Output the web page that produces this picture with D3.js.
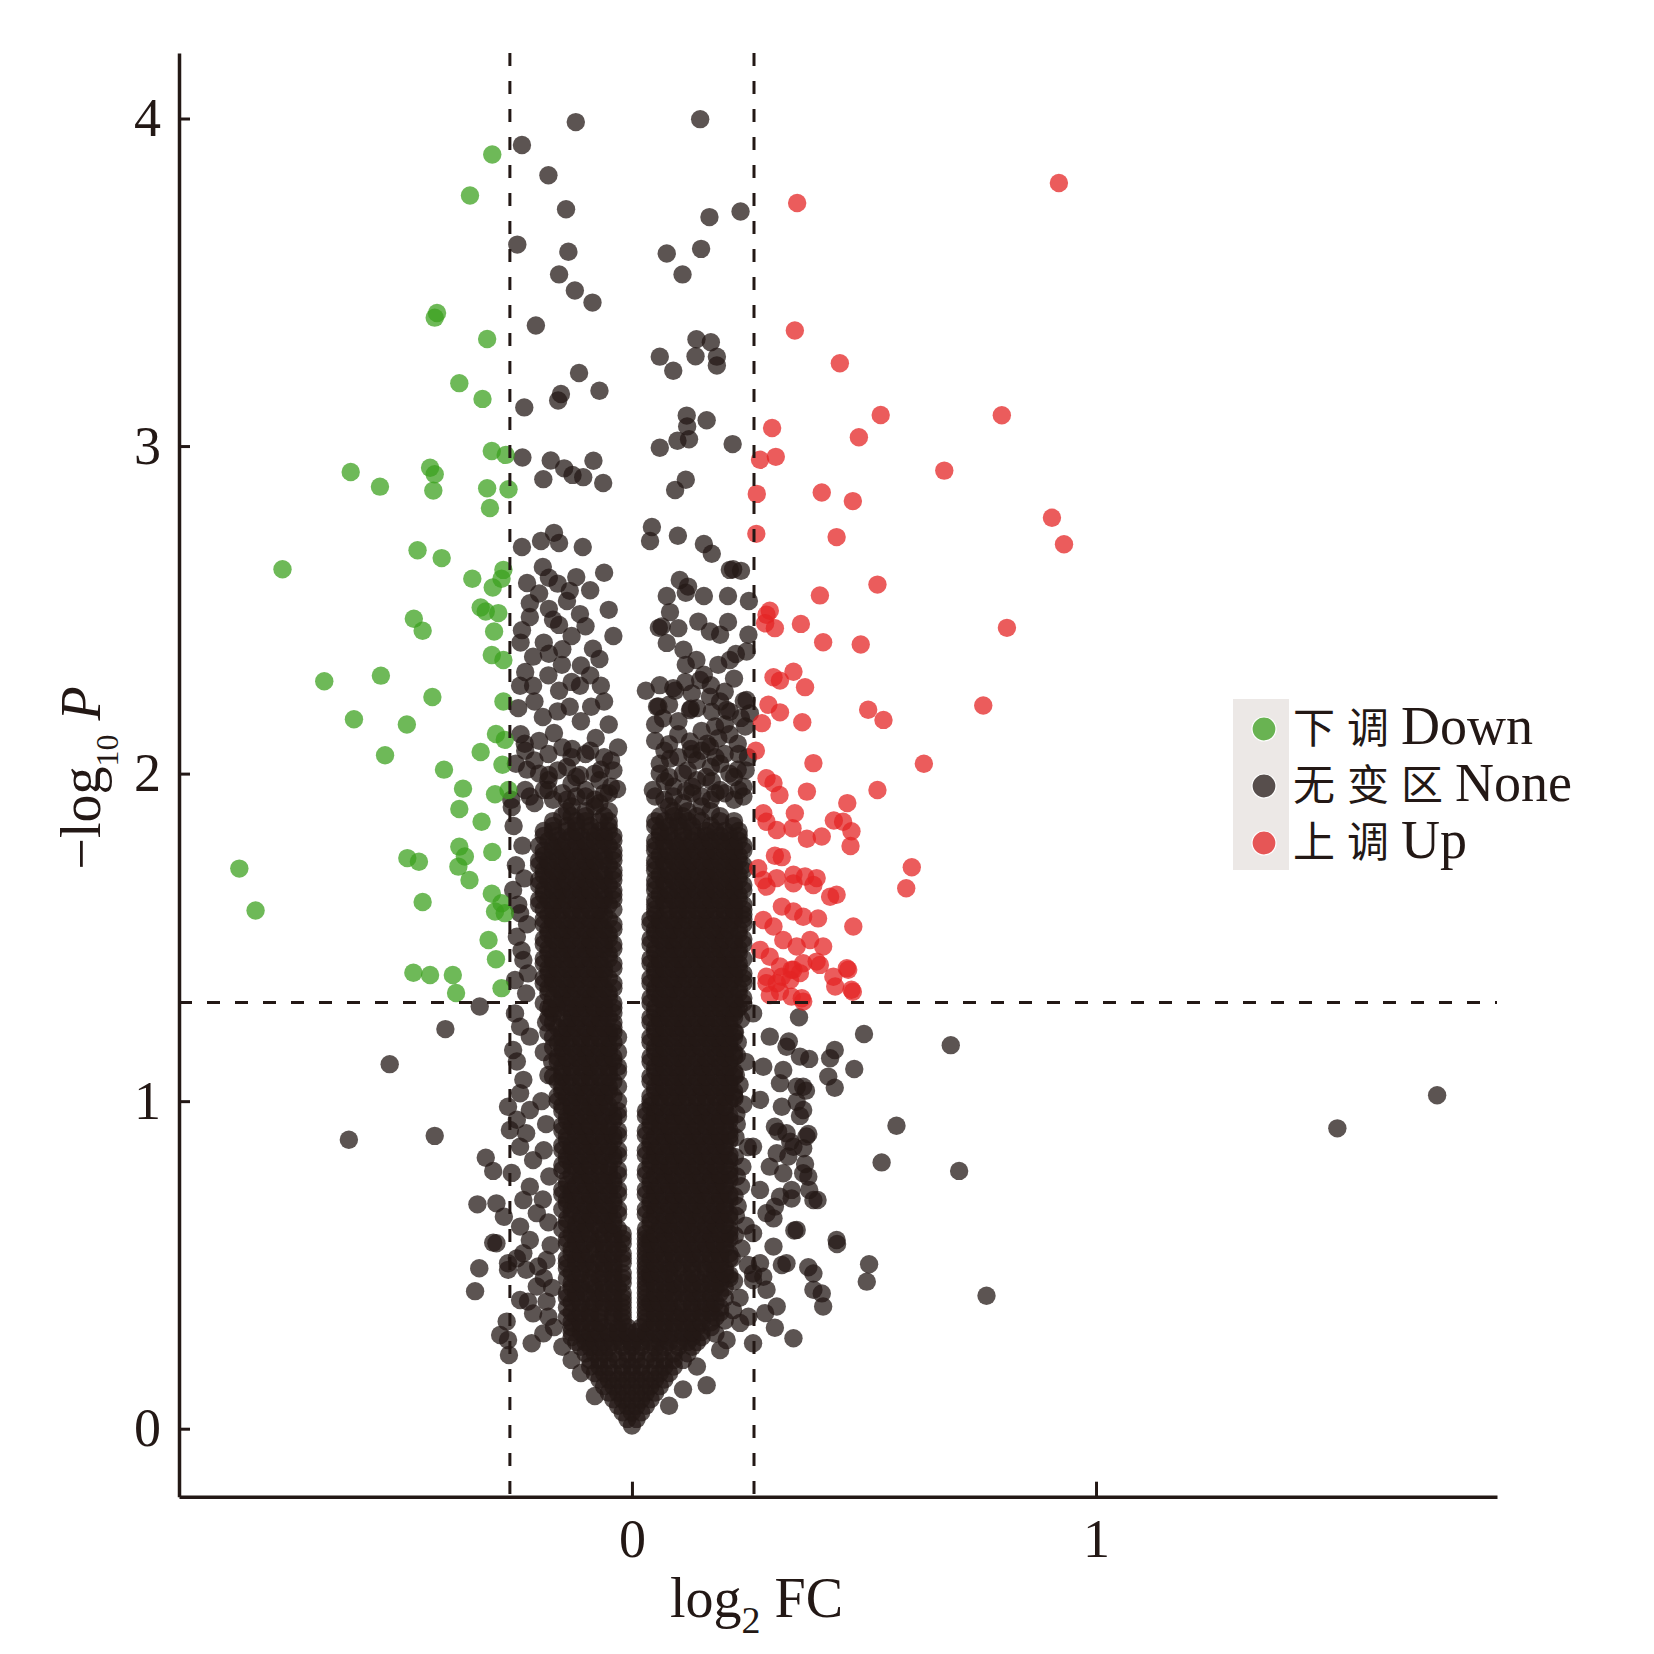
<!DOCTYPE html>
<html><head><meta charset="utf-8">
<script src="https://cdn.jsdelivr.net/npm/d3@7"></script>
<style>
html,body{margin:0;padding:0;background:#fff;}
svg{display:block;}
</style></head><body>
<svg id="chart" width="1654" height="1654"></svg>
<script>
// ---------------- data ----------------
const xTicks = [0, 1];
const yTicks = [0, 1, 2, 3, 4];
const fcThreshold = 0.263;   // log2(1.2)
const pThreshold = 1.301;    // -log10(0.05)
const categories = [
  {key: 'down', zh: '下调', en: 'Down'},
  {key: 'none', zh: '无变区', en: 'None'},
  {key: 'up',   zh: '上调', en: 'Up'}
];

// [log2FC, -log10P]
const downPoints = [
[-0.301,3.890],[-0.349,3.765],[-0.420,3.406],[-0.425,3.392],[-0.312,3.327],[-0.372,3.192],[-0.322,3.144],[-0.302,2.985],[-0.272,2.973],[-0.435,2.934],[-0.425,2.914],[-0.543,2.876],[-0.606,2.921],[-0.428,2.864],[-0.312,2.871],[-0.266,2.868],
[-0.306,2.811],[-0.462,2.682],[-0.410,2.658],[-0.753,2.624],[-0.344,2.595],[-0.300,2.568],[-0.281,2.595],[-0.277,2.622],[-0.326,2.507],[-0.315,2.495],[-0.288,2.490],[-0.470,2.473],[-0.451,2.436],[-0.297,2.434],[-0.302,2.362],[-0.277,2.347],[-0.663,2.282],[-0.541,2.299],[-0.430,2.234],[-0.277,2.220],[-0.599,2.166],[-0.485,2.150],[-0.293,2.121],[-0.274,2.103],[-0.532,2.056],[-0.326,2.066],[-0.405,2.012],[-0.279,2.027],[-0.364,1.954],[-0.295,1.937],[-0.266,1.950],[-0.372,1.892],[-0.324,1.853],[-0.846,1.710],[-0.484,1.742],[-0.459,1.731],[-0.372,1.777],[-0.360,1.747],[-0.374,1.716],[-0.301,1.761],[-0.350,1.675],[-0.302,1.633],[-0.451,1.608],[-0.811,1.582],[-0.281,1.604],[-0.295,1.579],[-0.274,1.574],[-0.309,1.492],[-0.293,1.433],[-0.435,1.385],[-0.386,1.385],[-0.379,1.330],[-0.281,1.345],[-0.471,1.392]
];

const upPoints = [
[0.356,3.742],[0.920,3.803],[0.351,3.353],[0.448,3.253],[0.536,3.095],[0.797,3.094],[0.489,3.027],[0.302,3.055],[0.310,2.967],[0.276,2.958],[0.673,2.925],[0.269,2.854],[0.409,2.858],[0.476,2.832],[0.905,2.781],[0.931,2.700],[0.441,2.722],[0.268,2.732],[0.529,2.577],[0.405,2.544],[0.808,2.445],[0.297,2.497],[0.290,2.485],[0.308,2.444],[0.287,2.459],[0.364,2.457],[0.412,2.401],[0.493,2.394],[0.305,2.294],[0.319,2.284],[0.348,2.311],[0.373,2.264],[0.294,2.210],[0.319,2.187],[0.280,2.154],[0.367,2.157],[0.509,2.195],[0.542,2.164],[0.757,2.208],[0.267,2.070],[0.391,2.032],[0.629,2.030],[0.290,1.986],[0.305,1.971],[0.318,1.935],[0.377,1.945],[0.529,1.950],[0.464,1.910],[0.283,1.879],[0.290,1.853],[0.351,1.879],[0.435,1.857],[0.455,1.853],[0.473,1.824],[0.312,1.828],[0.346,1.833],[0.377,1.801],[0.409,1.808],[0.471,1.779],[0.272,1.711],[0.308,1.749],[0.323,1.745],[0.283,1.675],[0.312,1.681],[0.348,1.691],[0.373,1.686],[0.398,1.681],[0.603,1.714],[0.591,1.650],[0.427,1.624],[0.441,1.630],[0.290,1.655],[0.348,1.665],[0.391,1.660],[0.323,1.594],[0.348,1.579],[0.369,1.563],[0.401,1.558],[0.283,1.553],[0.305,1.533],[0.477,1.533],[0.326,1.492],[0.355,1.472],[0.384,1.492],[0.412,1.472],[0.276,1.462],[0.297,1.441],[0.319,1.411],[0.348,1.401],[0.369,1.421],[0.398,1.426],[0.463,1.406],[0.290,1.380],[0.312,1.360],[0.341,1.370],[0.434,1.380],[0.473,1.340],[0.297,1.324],[0.366,1.314],[0.323,1.380],[0.344,1.401],[0.362,1.391],[0.405,1.416],[0.466,1.401],[0.438,1.350],[0.476,1.334],[0.344,1.319],[0.369,1.304],[0.319,1.334],[0.290,1.360]
];

// sparse "none" points: top scatter, upper arms, edges and outliers
const noneScatterPoints = [
[-0.121,3.989],[0.147,3.998],[-0.237,3.919],[-0.180,3.827],[-0.142,3.723],[0.167,3.699],[0.234,3.716],[-0.247,3.615],[-0.137,3.593],[0.075,3.588],[0.149,3.602],[-0.157,3.524],[0.109,3.524],[-0.123,3.475],[-0.085,3.438],[-0.207,3.368],[0.139,3.326],[0.170,3.317],[0.060,3.273],[0.137,3.274],[0.183,3.273],[0.183,3.246],[0.089,3.230],[-0.114,3.223],[-0.153,3.159],[-0.159,3.139],[-0.070,3.169],[-0.232,3.118],[0.118,3.093],[0.161,3.079],[0.119,3.060],[0.123,3.021],[0.098,3.016],[0.060,2.995],[0.217,3.006],[-0.236,2.965],[-0.175,2.956],[-0.083,2.955],[-0.146,2.932],[-0.128,2.912],[-0.105,2.905],[-0.191,2.899],[-0.062,2.887],[0.116,2.897],[0.093,2.866],
[-0.237,2.692],[-0.196,2.710],[-0.168,2.735],[-0.157,2.704],[-0.106,2.692],[-0.192,2.631],[-0.226,2.582],[-0.179,2.598],[-0.134,2.558],[-0.060,2.613],[-0.140,2.527],[-0.220,2.478],[-0.237,2.438],[-0.179,2.503],[-0.157,2.454],[-0.112,2.487],[-0.084,2.381],[-0.213,2.357],[-0.179,2.366],[-0.151,2.332],[-0.241,2.268],[-0.213,2.268],[-0.157,2.253],[-0.112,2.268],[-0.067,2.268],[-0.134,2.204],[-0.192,2.173],[-0.088,2.204],[-0.231,2.091],[-0.168,2.124],[-0.129,2.075],[-0.078,2.109],[-0.032,1.953],[-0.226,2.012],[-0.179,1.996],[-0.112,1.996],[-0.067,2.012],[-0.259,1.898],
[-0.20,2.55],[-0.16,2.58],[-0.12,2.60],[-0.09,2.56],[-0.22,2.52],[-0.17,2.47],[-0.13,2.42],[-0.10,2.45],[-0.05,2.50],[-0.24,2.40],[-0.19,2.40],[-0.15,2.38],[-0.11,2.33],[-0.07,2.35],[-0.04,2.42],[-0.23,2.31],[-0.18,2.30],[-0.13,2.28],[-0.09,2.30],[-0.06,2.22],[-0.245,2.20],[-0.21,2.22],[-0.16,2.19],[-0.11,2.16],[-0.05,2.15],[-0.24,2.12],[-0.20,2.10],[-0.15,2.08],[-0.10,2.06],[-0.06,2.05],[-0.03,2.08],[-0.25,2.03],[-0.21,2.04],[-0.14,2.02],[-0.08,2.00],[-0.04,2.01],[-0.19,1.95],[-0.15,1.94],[-0.10,1.95],[-0.06,1.94],[-0.23,1.95],[-0.21,1.91],[-0.13,1.97],[-0.08,1.92],
[-0.17,1.92],[-0.12,1.93],[-0.07,1.91],[-0.18,1.98],[-0.045,1.96],
[-0.22,1.93],[-0.18,1.95],[-0.14,1.92],[-0.10,1.93],[-0.05,1.94],[-0.20,2.00],[-0.16,2.01],[-0.12,1.99],[-0.07,1.98],[-0.045,2.04],[-0.23,2.07],[-0.18,2.06],[-0.13,2.05],[-0.09,2.07],
[0.043,2.753],[0.039,2.710],[0.099,2.726],[0.155,2.701],[0.172,2.671],[0.211,2.622],[0.235,2.619],[0.075,2.542],[0.082,2.493],[0.058,2.445],[0.116,2.552],[0.155,2.542],[0.207,2.542],[0.207,2.463],[0.224,2.365],[0.075,2.399],[0.116,2.332],[0.155,2.302],[0.093,2.253],[0.030,2.253],[0.054,2.204],[0.127,2.198],[0.172,2.189],[0.211,2.189],[0.241,2.222],[0.127,2.075],[0.082,2.045],[0.162,2.091],[0.228,2.091],[0.071,1.977],[0.116,1.947],[0.172,1.977],[0.228,2.012],
[0.103,2.591],[0.121,2.571],[0.218,2.624],[0.064,2.449],[0.100,2.444],[0.143,2.464],[0.168,2.434],[0.190,2.424],[0.251,2.424],[0.111,2.378],[0.139,2.347],[0.186,2.332],[0.211,2.347],[0.247,2.373],[0.057,2.205],[0.067,2.169],[0.089,2.261],[0.129,2.245],[0.147,2.286],[0.168,2.235],[0.200,2.250],[0.204,2.194],[0.247,2.225],[0.254,2.184],[0.125,2.194],[0.179,2.144],[0.186,2.108],[0.168,2.082],[0.125,2.098],[0.244,2.144],[0.252,2.527],
[0.05,2.10],[0.10,2.12],[0.14,2.04],[0.20,2.06],[0.25,2.05],[0.06,2.00],[0.09,1.96],[0.14,1.98],[0.19,1.95],[0.24,1.96],[0.21,2.12],[0.05,1.93],[0.15,1.93],[0.22,1.92],
[0.07,1.92],[0.11,1.91],[0.17,1.92],[0.20,1.94],[0.08,1.99],[0.12,2.01],[0.17,2.02],[0.22,1.99],[0.10,2.05],[0.15,2.07],[0.19,2.03],[0.13,1.94],[0.24,1.93],[0.07,2.07],
[0.045,1.95],[0.09,1.93],[0.13,1.96],[0.18,1.94],[0.23,1.95],[0.06,2.03],[0.11,2.00],[0.16,1.99],[0.21,2.00],[0.245,2.01],[0.08,2.09],[0.13,2.06],[0.18,2.05],[0.23,2.06],[0.05,2.15],[0.10,2.16],[0.15,2.13],[0.20,2.15],[0.235,2.17],[0.08,2.21],[0.14,2.20],[0.19,2.22],[0.06,2.27],[0.115,2.28],[0.17,2.27],[0.22,2.29],
[-0.256,1.645],[-0.241,1.574],[-0.248,1.502],[-0.234,1.431],[-0.252,1.370],[-0.228,1.329],[-0.26,1.92],[-0.255,1.84],[-0.236,1.78],[-0.25,1.72],[-0.232,1.68],[-0.245,1.60],[-0.226,1.54],[-0.238,1.46],[-0.224,1.39],
[-0.328,1.289],[-0.402,1.220],[-0.522,1.113],[-0.610,0.882],[-0.425,0.894],[-0.315,0.827],[-0.299,0.787],[-0.333,0.685],[-0.292,0.688],[-0.276,0.647],[-0.299,0.568],[-0.329,0.490],[-0.338,0.420],[-0.267,0.485],[-0.270,0.327],[-0.259,0.781],[-0.256,1.156],[-0.267,0.983],[-0.263,0.912],[-0.267,0.505],[-0.248,0.520],[-0.234,0.536],[-0.284,0.286],[-0.267,0.271],[-0.216,0.261],[-0.224,0.388],[-0.184,0.388],[-0.180,0.342],[-0.191,0.291],[-0.202,0.495],[-0.184,0.515],[-0.292,0.566],[-0.265,0.225],
[-0.252,1.268],[-0.241,1.227],[-0.220,1.197],[-0.248,1.121],[-0.234,1.065],[-0.241,1.024],[-0.220,0.973],[-0.248,0.943],[-0.228,0.902],[-0.241,0.861],[-0.213,0.820],[-0.220,0.739],[-0.234,0.698],[-0.205,0.658],[-0.241,0.617],[-0.220,0.576],[-0.228,0.485],[-0.205,0.434],[-0.241,0.393],[-0.213,0.352],
[-0.185,1.24],[-0.19,1.15],[-0.18,1.08],[-0.195,1.00],[-0.185,0.93],[-0.19,0.85],[-0.178,0.77],[-0.192,0.70],[-0.18,0.63],[-0.175,0.56],[-0.19,0.46],[-0.172,0.43],[-0.168,0.31],[-0.15,0.25],[-0.13,0.21],[-0.11,0.17],[-0.08,0.10],
[-0.175,1.28],[-0.18,1.21],[-0.172,1.12],
[0.360,1.256],[0.500,1.205],[0.687,1.171],[0.338,1.182],[0.437,1.156],[0.427,1.131],[0.382,1.129],[0.362,1.136],[0.479,1.098],[0.423,1.075],[0.437,1.041],[0.369,1.044],[0.375,1.032],[0.326,1.095],[0.323,0.983],[0.355,0.998],[0.369,0.973],[0.362,0.955],[0.570,0.925],[0.308,0.922],[0.315,0.907],[0.341,0.876],[0.380,0.900],[0.369,0.856],[0.337,0.831],[0.312,0.841],[0.373,0.808],[0.380,0.769],[0.538,0.813],[0.705,0.787],[0.344,0.729],[0.344,0.703],[0.382,0.729],[0.400,0.698],[0.308,0.678],[0.305,0.642],[0.350,0.605],[0.442,0.564],[0.323,0.500],[0.380,0.493],[0.511,0.502],[0.506,0.449],[0.409,0.413],[0.764,0.406],[0.308,0.308],[0.348,0.276],[1.735,1.018],[1.520,0.917],
[0.161,0.133],[0.261,0.261],[0.287,0.353],[0.233,0.323],[0.251,0.342],[0.218,0.362],[0.204,0.271],[0.190,0.240],[0.261,0.474],[0.283,0.464],[0.08,0.07],[0.11,0.12],[0.14,0.19],
[0.261,1.268],[0.297,1.197],[0.333,1.166],[0.283,1.105],[0.319,1.055],[0.355,1.044],[0.276,1.004],[0.333,0.902],[0.376,0.892],[0.261,0.861],[0.348,0.861],[0.297,0.800],[0.326,0.780],[0.369,0.780],[0.276,0.729],[0.319,0.708],[0.391,0.698],[0.290,0.658],[0.355,0.607],[0.261,0.597],[0.305,0.556],[0.276,0.505],[0.333,0.505],[0.391,0.474],[0.441,0.576],[0.261,0.454],[0.290,0.424],[0.312,0.373],[0.391,0.424],[0.412,0.373],
[0.235,1.25],[0.245,1.12],[0.24,0.99],[0.25,0.86],[0.235,0.74],[0.245,0.62],[0.25,0.50],[0.232,0.40],[0.228,1.18],[0.232,1.05],[0.226,0.93],[0.238,0.80],[0.228,0.68],[0.236,0.55],[0.22,0.45],[0.20,0.33],[0.18,0.29],
[0.225,1.28],[0.222,1.21],[0.226,1.14],[0.224,1.08],[0.221,1.01],[0.225,0.96],[0.223,0.89],[0.222,0.83],[0.226,0.77],[0.221,0.71],[0.224,0.65],[0.222,0.59],[0.215,0.52],[0.21,0.47]
];

// dense "none" core, in units of 0.01: [ -log10P, log2FC, log2FC, ... ]
const noneCoreRows = [
[1,0],[3,-1,1],[5,-2,0,2],[7,-3,-1,1,3],[9,-4,-2,0,2,4],[11,-5,-3,-1,1,3,5],[13,-6,-4,-2,0,2,4,6],[15,-7,-5,-3,-1,1,3,5,7],[17,-8,-6,-4,-2,0,2,4,6,8],[19,-9,-7,-5,-2,0,2,5,7,9],[21,-9,-7,-5,-3,-1,1,3,5,7,9,11],[23,-10,-8,-6,-4,-1,1,4,6,9,12],[25,-11,-9,-7,-5,-2,0,2,5,7,10,13],
[28,-13,-10,-8,-5,-3,-1,1,3,6,8,11,13,15],[31,-13,-11,-8,-6,-3,-1,2,4,7,9,12,14,17],[34,-14,-12,-9,-7,-4,-2,3,5,7,10,12,15,18],[37,-14,-11,-9,-6,-4,-2,3,5,8,10,13,15,17,19],[40,-14,-12,-9,-7,-4,-2,3,5,7,9,12,14,17,20],[43,-13,-11,-8,-6,-3,3,5,8,10,13,15,18,20],[46,-14,-12,-9,-7,-4,-2,3,4,7,9,12,14,17,19,21],[49,-14,-11,-9,-6,-4,3,5,8,10,13,16,18,20],[52,-14,-12,-10,-7,-5,-2,3,4,7,9,12,14,17,19,21],[55,-13,-11,-8,-6,-3,3,6,8,11,13,16,18,20],[58,-14,-12,-9,-7,-4,-2,3,4,7,10,12,15,17,20,21],
[61,-15,-12,-10,-7,-5,-3,3,6,8,11,13,16,18,21],[64,-14,-11,-9,-6,-4,4,7,9,12,14,17,19,21],[67,-15,-13,-10,-8,-5,-3,3,5,8,10,13,15,18,20],[70,-14,-12,-9,-7,-4,4,6,9,11,14,16,19,21],[73,-15,-13,-10,-8,-5,-3,3,5,8,10,13,15,18,20],[76,-14,-11,-9,-6,-4,4,7,9,12,14,17,19,21],[79,-15,-12,-10,-7,-5,-3,3,6,8,11,13,16,18,21],[82,-14,-12,-9,-7,-4,4,6,9,11,14,16,19,21],[85,-15,-13,-10,-8,-5,-3,3,5,8,10,13,15,18,20],[88,-14,-11,-9,-6,-4,4,7,9,12,14,17,19,21],[91,-15,-12,-10,-7,-5,-3,3,6,8,11,13,16,18,21],[94,-14,-12,-9,-7,-4,4,6,9,11,14,16,19,21],[97,-15,-13,-10,-8,-5,-3,3,5,8,10,13,15,18,20],
[100,-16,-13,-11,-8,-6,-3,4,6,9,11,14,16,19,21],[103,-15,-12,-10,-7,-5,5,7,10,12,15,17,20,22],[106,-16,-14,-11,-9,-6,-4,4,6,9,11,14,16,19,21],[109,-15,-13,-10,-8,-5,-3,5,7,10,12,15,17,20,22],[112,-16,-14,-11,-9,-6,-4,4,6,9,11,14,16,19,21],[115,-15,-12,-10,-7,-5,-3,5,7,10,12,15,18,20,22],[118,-16,-14,-11,-9,-6,-4,4,6,9,12,14,17,19,21],[121,-15,-13,-10,-8,-5,-4,5,7,10,12,15,17,20,22],[124,-17,-14,-12,-9,-7,-4,4,6,9,11,14,16,19,21],[127,-17,-13,-11,-8,-6,-4,5,7,10,12,15,17,20,22],
[130,-19,-16,-14,-11,-9,-6,-4,4,7,9,12,14,17,19,22,24],[133,-18,-15,-13,-10,-8,-5,5,8,10,13,15,18,20,23],[136,-19,-17,-14,-12,-9,-7,-4,4,6,9,11,14,16,19,21,24],[139,-18,-16,-13,-11,-8,-6,5,7,10,12,15,17,20,22,24],[142,-19,-17,-14,-12,-9,-7,-4,4,6,9,11,14,16,19,21,23],[145,-18,-15,-13,-10,-8,-5,5,8,10,13,15,18,20,23],[148,-19,-16,-14,-11,-9,-6,-4,4,7,9,12,14,17,19,22,24],[151,-18,-15,-13,-10,-8,-5,5,8,10,13,15,18,20,23],[154,-19,-17,-14,-12,-9,-7,-4,4,6,9,11,14,16,19,21,24],[157,-18,-16,-13,-11,-8,-6,5,7,10,12,15,17,20,22,24],
[160,-20,-17,-15,-12,-10,-7,-5,5,7,10,12,15,17,20,22,24],[163,-19,-16,-14,-11,-9,-6,-4,6,8,11,13,16,18,21,23],[166,-20,-17,-15,-12,-10,-7,-5,5,7,10,12,15,17,20,22,24],[169,-19,-16,-14,-11,-9,-6,-4,6,8,11,13,16,18,21,23],[172,-20,-18,-15,-13,-10,-8,-5,5,7,10,12,15,17,20,22,24],[175,-19,-16,-14,-11,-9,-6,-4,6,8,11,13,16,18,21,23],[178,-20,-17,-15,-12,-10,-7,-5,5,7,10,12,15,17,20,22,24],[181,-19,-16,-13,-11,-8,-6,-4,6,8,11,14,16,19,21,23],[184,-17,-14,-12,-9,-5,5,8,10,13,17,22],[187,-15,-13,-10,-6,6,9,11,14,19],[190,-13,-8,8,15]
];

// interleaved rows of the same dense core (units of 0.01)
const noneCoreRowsB = [
[26.5,-12,-10,-8,-6,-4,-2,0,2,4,6,8,10,12,14],[29.5,-13,-11,-9,-7,-5,-3,-1,1,3,5,7,9,11,13,15],[32.5,-13,-11,-9,-7,-4,-2,3,5,7,9,11,13,15,17],[35.5,-13,-11,-9,-7,-4,-2,3,5,7,9,11,13,15,17,19],[38.5,-13,-11,-8,-6,-4,-2,3,4,6,8,11,13,16,18],
[41.5,-14,-12,-10,-8,-6,-4,-2,3,5,7,9,11,13,15,17,19],[44.5,-13,-11,-9,-6,-4,-2,3,5,7,9,11,13,15,17,19],[47.5,-13,-11,-8,-6,-4,-2,3,4,6,8,11,13,16,18,20],[50.5,-14,-12,-10,-8,-6,-4,-2,3,5,7,9,11,13,15,17,19],[53.5,-13,-11,-9,-6,-4,-2,3,5,7,9,11,13,15,17,19,21],[56.5,-14,-12,-10,-8,-6,-4,-2,3,4,6,8,10,12,14,16,18,20],[59.5,-13,-11,-9,-6,-4,-2,3,5,7,9,11,13,15,17,19,21],
[62.5,-14,-12,-10,-8,-6,-4,4,6,8,10,12,14,16,18,20],[65.5,-13,-11,-9,-7,-5,-3,3,5,7,9,11,13,15,17,19,21],[68.5,-14,-12,-10,-8,-6,-4,4,6,8,10,12,14,16,18,20],[71.5,-15,-13,-11,-9,-7,-5,-3,3,5,7,9,11,13,15,17,19,21],[74.5,-14,-12,-10,-8,-6,-4,4,6,8,10,12,14,16,18,20],[77.5,-13,-11,-9,-7,-5,-3,3,5,7,9,11,13,15,17,19,21],[80.5,-15,-13,-11,-9,-7,-5,4,6,8,10,12,14,16,18,20],[83.5,-14,-12,-10,-8,-6,-4,-3,3,5,7,9,11,13,15,17,19,21],[86.5,-15,-13,-11,-9,-7,-5,4,6,8,10,12,14,16,18,20],[89.5,-14,-12,-10,-8,-6,-4,-3,3,5,7,9,11,13,15,17,19,21],[92.5,-15,-13,-11,-9,-7,-5,4,6,8,10,12,14,16,18,20],[95.5,-14,-12,-10,-8,-6,-4,-3,3,5,7,9,11,13,15,17,19,21],[98.5,-15,-13,-11,-9,-7,-5,4,6,8,10,12,14,16,18,20],
[101.5,-16,-14,-12,-10,-8,-6,-4,4,6,8,10,12,14,16,18,20,22],[104.5,-15,-13,-11,-9,-7,-5,-3,5,7,9,11,13,15,17,19,21],[107.5,-17,-15,-13,-11,-9,-7,-5,4,6,8,10,12,14,16,18,20,22],[110.5,-15,-13,-11,-9,-7,-5,-3,5,7,9,11,13,15,17,19,21],[113.5,-16,-14,-12,-10,-8,-6,-4,4,6,8,10,12,14,16,18,20,22],[116.5,-17,-15,-13,-11,-9,-7,-5,5,7,9,11,13,15,17,19,21],[119.5,-17,-15,-13,-11,-9,-7,-5,-3,4,6,8,10,12,14,16,18,20,22],[122.5,-16,-14,-12,-10,-8,-6,-4,5,7,9,11,13,15,17,19,21],[125.5,-18,-15,-13,-11,-9,-7,-5,4,6,8,10,12,14,16,18,20,22],[128.5,-18,-16,-14,-12,-10,-8,-6,-4,5,7,9,11,13,15,17,19,21,23],
[131.5,-17,-15,-13,-11,-9,-7,-5,4,6,8,10,12,14,16,18,20,22,24],[134.5,-18,-16,-14,-12,-10,-8,-6,-4,5,7,9,11,13,15,17,19,21,23],[137.5,-19,-17,-15,-13,-11,-9,-7,-5,4,6,8,10,12,14,16,18,20,22,24],[140.5,-18,-16,-14,-12,-10,-8,-6,-4,5,7,9,11,13,15,17,19,21,23],[143.5,-19,-17,-15,-13,-11,-9,-7,-5,4,6,8,10,12,14,16,18,20,22,24],[146.5,-18,-16,-14,-12,-10,-8,-6,-4,5,7,9,11,13,15,17,19,21,23],[149.5,-19,-17,-15,-13,-11,-9,-7,-5,4,6,8,10,12,14,16,18,20,22,24],[152.5,-18,-16,-14,-12,-10,-8,-6,-4,5,7,9,11,13,15,17,19,21,23],[155.5,-19,-17,-15,-13,-11,-9,-7,-5,4,6,8,10,12,14,16,18,20,22,24],[158.5,-19,-17,-15,-13,-11,-9,-7,-4,5,8,10,12,14,16,18,20,22,24],
[161.5,-20,-18,-16,-14,-12,-10,-8,-6,-4,5,7,9,11,13,15,17,19,21,23],[164.5,-19,-17,-15,-13,-11,-9,-7,-4,5,8,10,12,14,16,18,20,22,24],[167.5,-20,-18,-16,-14,-12,-10,-8,-6,-4,5,7,9,11,13,15,17,19,21,23],[170.5,-19,-17,-15,-13,-11,-9,-7,-4,5,8,10,12,14,16,18,20,22,24],[173.5,-20,-18,-16,-14,-12,-10,-8,-6,-4,5,7,9,11,13,15,17,19,21,23],[176.5,-19,-17,-15,-13,-11,-9,-7,-4,5,8,10,12,14,16,18,20,22,24],[179.5,-18,-16,-14,-12,-10,-8,-6,-4,5,7,9,11,13,15,17,19,21,23],[182.5,-19,-17,-14,-12,-9,-7,-5,6,8,11,13,16,18,20,23],[185.5,-17,-12,-10,-7,-5,5,7,10,12,15,19,22],[188.5,-14,-10,-5,9,12,17]
];

// ---------------- build ----------------
const ink = '#231815';
const colors = {down: 'rgb(60,160,30)', none: ink, up: 'rgb(228,35,35)'};
const ptOpacity = 0.74;

const nonePoints = noneScatterPoints.map(d => ({fc: d[0], p: d[1]}));
noneCoreRows.concat(noneCoreRowsB).forEach(row => {
  const p = row[0] / 100;
  row.slice(1).forEach(v => nonePoints.push({fc: v / 100, p: p}));
});
const series = [
  {key: 'none', pts: nonePoints},
  {key: 'down', pts: downPoints.map(d => ({fc: d[0], p: d[1]}))},
  {key: 'up',   pts: upPoints.map(d => ({fc: d[0], p: d[1]}))}
];

const svg = d3.select('#chart');
const x = d3.scaleLinear().domain([-0.976, 1.864]).range([179, 1497]);
const y = d3.scaleLinear().domain([-0.2076, 4.2]).range([1496.7, 53]);
const R = 9.2;

// points
series.forEach(s => {
  svg.append('g').selectAll('circle').data(s.pts).join('circle')
    .attr('cx', d => x(d.fc)).attr('cy', d => y(d.p)).attr('r', R)
    .attr('fill', colors[s.key]).attr('fill-opacity', ptOpacity);
});

// threshold lines
const dash = '13,15';
const yDom = y.domain(), xDom = x.domain();
[-fcThreshold, fcThreshold].forEach(v => {
  svg.append('line').attr('x1', x(v)).attr('x2', x(v)).attr('y1', y(yDom[1])).attr('y2', y(yDom[0]))
    .attr('stroke', ink).attr('stroke-width', 3).attr('stroke-dasharray', dash);
});
svg.append('line').attr('x1', x(xDom[0])).attr('x2', x(xDom[1])).attr('y1', y(pThreshold)).attr('y2', y(pThreshold))
  .attr('stroke', ink).attr('stroke-width', 3).attr('stroke-dasharray', dash);

// axes
const fontSerif = '"Liberation Serif", "Times New Roman", serif';
const gx = svg.append('g').attr('transform', `translate(0,${y(yDom[0])})`)
  .call(d3.axisBottom(x).tickValues(xTicks).tickSizeInner(-15).tickSizeOuter(0).tickPadding(22).tickFormat(d3.format('d')));
const gy = svg.append('g').attr('transform', `translate(${x(xDom[0])},0)`)
  .call(d3.axisLeft(y).tickValues(yTicks).tickSizeInner(-11).tickSizeOuter(0).tickPadding(18).tickFormat(d3.format('d')));
[gx, gy].forEach(g => {
  g.select('.domain').attr('stroke', ink).attr('stroke-width', 3.5);
  g.selectAll('.tick line').attr('stroke', ink).attr('stroke-width', 3);
  g.selectAll('.tick text').attr('fill', ink).attr('font-family', fontSerif).attr('font-size', 54);
});

// axis titles
const xt = svg.append('text').attr('x', 670).attr('y', 1617)
  .attr('font-family', fontSerif).attr('font-size', 56).attr('fill', ink);
xt.append('tspan').text('log');
xt.append('tspan').attr('font-size', 38).attr('dy', 16).text('2');
xt.append('tspan').attr('dy', -16).text('\u00a0FC');

const yt = svg.append('text').attr('transform', 'translate(100,778) rotate(-90)')
  .attr('text-anchor', 'middle').attr('font-family', fontSerif).attr('font-size', 56).attr('fill', ink);
yt.append('tspan').text('\u2212log');
yt.append('tspan').attr('font-size', 32).attr('dy', 18).text('10');
yt.append('tspan').attr('dy', -18).text('\u00a0');
yt.append('tspan').attr('font-style', 'italic').text('P');

// legend
const lg = svg.append('g');
lg.append('rect').attr('x', 1233).attr('y', 699).attr('width', 56).attr('height', 171).attr('fill', '#ece8e6');
categories.forEach((c, i) => {
  const cy = 729 + i * 57;
  lg.append('circle').attr('cx', 1264).attr('cy', cy).attr('r', 12)
    .attr('fill', colors[c.key]).attr('fill-opacity', ptOpacity).attr('stroke', '#fff').attr('stroke-width', 1.2);
  const zh = lg.append('text').attr('x', 1293).attr('y', cy + 14).attr('fill', ink)
    .attr('font-size', 42).attr('letter-spacing', 12).attr('font-family', '"Noto Sans CJK SC", sans-serif').text(c.zh);
  const w = zh.node().getComputedTextLength();
  lg.append('text').attr('x', 1293 + w).attr('y', cy + 15).attr('fill', ink)
    .attr('font-size', 54).attr('font-family', fontSerif).text(c.en);
});
</script>
</body></html>
